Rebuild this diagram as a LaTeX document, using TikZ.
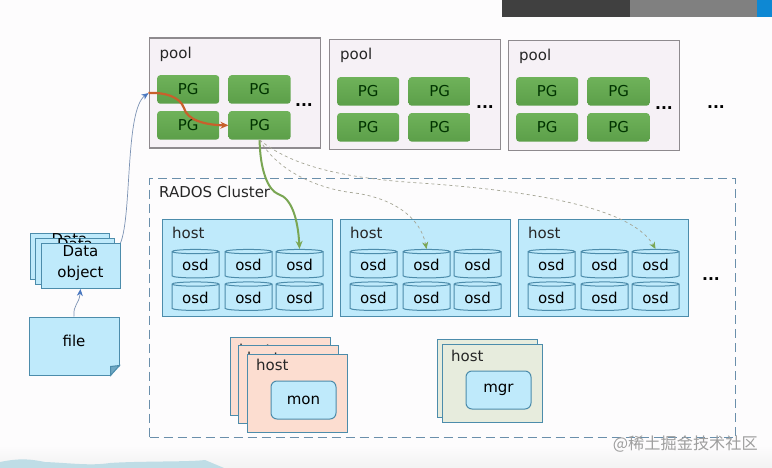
\documentclass[tikz,border=0pt]{standalone}
\usepackage{fontspec}
\setmainfont{DejaVu Sans}
\newfontfamily\cjkfont{Noto Sans CJK SC}
\usepackage{tikz}
\usetikzlibrary{arrows.meta,positioning,shapes.geometric}
\definecolor{pagefill}{HTML}{FDFCFD}
\definecolor{bluefill}{HTML}{BFEAFB}
\definecolor{blueline}{HTML}{4C8CAB}
\definecolor{poolfill}{HTML}{F6F1F6}
\definecolor{poolline}{HTML}{8E8A8E}
\definecolor{monfill}{HTML}{FCDDD0}
\definecolor{mgrfill}{HTML}{E7ECDD}
\definecolor{greenline}{HTML}{7AA653}
\definecolor{orangeline}{HTML}{C8602C}
\definecolor{arrowblue}{HTML}{4A78C0}
\definecolor{wireblue}{HTML}{7C93B4}
\definecolor{dashline}{HTML}{A5A595}
\definecolor{clusterline}{HTML}{6A8FAB}
\definecolor{pgtop}{HTML}{6FB25A}
\definecolor{pgbottom}{HTML}{5C9F49}
\definecolor{cloud}{HTML}{BFDDE6}
\tikzset{
	poolbox/.style={
		rectangle, draw=poolline, line width=1.2pt, fill=poolfill,
		minimum width=171pt, minimum height=110pt, anchor=north west,
	},
	pgbox/.style={
		rectangle, rounded corners=3pt, top color=pgtop, bottom color=pgbottom,
		minimum width=62pt, minimum height=28.5pt, inner sep=0pt, text=black!80!green,
	},
	hostbox/.style={
		rectangle, draw=blueline, line width=1pt, fill=bluefill,
		minimum width=169.5pt, minimum height=97pt, anchor=north west,
	},
	osdbox/.style={
		cylinder, shape border rotate=90, aspect=0.16, draw=blueline, line width=1pt,
		cylinder uses custom fill, cylinder body fill=bluefill, cylinder end fill=bluefill,
		minimum width=47pt, minimum height=28.5pt, inner sep=0pt,
	},
	pagebox/.style={
		rectangle, draw=blueline, line width=1pt, fill=bluefill, align=center,
		minimum width=79pt, minimum height=45pt, inner sep=0pt, anchor=north west,
	},
	stackbox/.style={
		rectangle, draw=blueline, line width=1pt,
		minimum width=100pt, minimum height=78pt, anchor=north west,
	},
	rolebox/.style={
		rectangle, rounded corners=6pt, draw=blueline, line width=1pt, fill=bluefill,
		minimum width=65pt, minimum height=38pt, inner sep=0pt,
	},
	barbox/.style={
		rectangle, minimum height=17pt, inner sep=0pt, outer sep=0pt,
	},
	lbl/.style={inner sep=0pt, text=black!85},
	dots/.style={inner sep=0pt, font=\fontsize{15.5}{18}\selectfont\bfseries},
	line/.style={draw, -{Stealth[length=8pt,width=7pt]}},
	wire/.style={draw, wireblue, line width=0.7pt, arrows={-{Stealth[length=7pt,width=6pt,arrowblue]}}},
	dashwire/.style={draw=dashline, line width=0.7pt, dashed, arrows={-{Stealth[length=7pt,width=6pt,greenline]}}},
}
\begin{document}
\begin{tikzpicture}[x=1pt,y=-1pt,font=\fontsize{15}{18}\selectfont]
	\useasboundingbox (0,0) rectangle (772,468);
	\fill[pagefill] (0,0) rectangle (772,468);
	\fill[top color=pagefill, bottom color=white!95!black] (0,445) rectangle (772,468);
	\fill[cloud] (0,468) -- (0,462) .. controls (20,458) and (30,459) .. (45,462) .. controls (70,463) and (90,466) .. (110,463) .. controls (140,461) and (190,462) .. (205,460) -- (224,468) -- cycle;

	\node[barbox, fill=black!75, minimum width=128pt, anchor=north west] (bardark) at (502,0) {};
	\node[barbox, fill=black!50, minimum width=127pt, right=0pt of bardark] (barmid) {};
	\node[barbox, fill=cyan!70!blue, minimum width=15pt, right=0pt of barmid] (barblue) {};

	\node[poolbox] (poolone) at (148.5,37.5) {};
	\node[poolbox] (pooltwo) at (329,39) {};
	\node[poolbox] (poolthree) at (508,40) {};
	\node[lbl, below right=9pt and 11pt of poolone.north west] (labone) {pool};
	\node[lbl, below right=9pt and 11pt of pooltwo.north west] (labtwo) {pool};
	\node[lbl, below right=9pt and 11pt of poolthree.north west] (labthree) {pool};

	\node[pgbox, anchor=north west] (pgaa) at (157,75) {PG};
	\node[pgbox, right=9pt of pgaa] (pgab) {PG};
	\node[pgbox, below=7pt of pgaa] (pgac) {PG};
	\node[pgbox, below=7pt of pgab] (pgad) {PG};
	\node[pgbox, anchor=north west] (pgba) at (337,77) {PG};
	\node[pgbox, right=9pt of pgba] (pgbb) {PG};
	\node[pgbox, below=7pt of pgba] (pgbc) {PG};
	\node[pgbox, below=7pt of pgbb] (pgbd) {PG};
	\node[pgbox, anchor=north west] (pgca) at (516,77) {PG};
	\node[pgbox, right=9pt of pgca] (pgcb) {PG};
	\node[pgbox, below=7pt of pgca] (pgcc) {PG};
	\node[pgbox, below=7pt of pgcb] (pgcd) {PG};

	\node[dots] (dotsa) at (304,105) {...};
	\node[dots] (dotsb) at (485,107) {...};
	\node[dots] (dotsc) at (664,108) {...};
	\node[dots] (dotsd) at (716,107) {...};

	\node[rectangle, draw=clusterline, dash pattern=on 9pt off 5pt, line width=1.2pt, minimum width=586pt, minimum height=259pt, anchor=north west] (cluster) at (149,178) {};
	\node[lbl, anchor=west] (clusterlab) at (159,192) {RADOS Cluster};

	\node[hostbox] (hosta) at (162,219) {};
	\node[hostbox] (hostb) at (340,219) {};
	\node[hostbox] (hostc) at (518,219) {};
	\node[lbl, anchor=west] (hostlaba) at (172,233) {host};
	\node[lbl, anchor=west] (hostlabb) at (350,233) {host};
	\node[lbl, anchor=west] (hostlabc) at (528,233) {host};

	\node[osdbox] (osdaa) at (195.5,265) {osd};
	\node[osdbox, right=5pt of osdaa] (osdab) {osd};
	\node[osdbox, right=3pt of osdab] (osdac) {osd};
	\node[osdbox, below=3pt of osdaa] (osdad) {osd};
	\node[osdbox, below=3pt of osdab] (osdae) {osd};
	\node[osdbox, below=3pt of osdac] (osdaf) {osd};
	\node[osdbox] (osdba) at (373.5,265) {osd};
	\node[osdbox, right=5pt of osdba] (osdbb) {osd};
	\node[osdbox, right=3pt of osdbb] (osdbc) {osd};
	\node[osdbox, below=3pt of osdba] (osdbd) {osd};
	\node[osdbox, below=3pt of osdbb] (osdbe) {osd};
	\node[osdbox, below=3pt of osdbc] (osdbf) {osd};
	\node[osdbox] (osdca) at (551.5,265) {osd};
	\node[osdbox, right=5pt of osdca] (osdcb) {osd};
	\node[osdbox, right=3pt of osdcb] (osdcc) {osd};
	\node[osdbox, below=3pt of osdca] (osdcd) {osd};
	\node[osdbox, below=3pt of osdcb] (osdce) {osd};
	\node[osdbox, below=3pt of osdcc] (osdcf) {osd};
	\node[dots] (dotse) at (711,279) {...};

	\node[stackbox, fill=monfill] (monback) at (229.5,336.5) {};
	\node[lbl, anchor=west] (monbacklab) at (239,350) {host};
	\node[stackbox, fill=monfill] (monmid) at (237.5,345) {};
	\node[lbl, anchor=west] (monmidlab) at (247,358) {host};
	\node[stackbox, fill=monfill] (monfront) at (246.5,353.5) {};
	\node[lbl, anchor=west] (monfrontlab) at (256,365) {host};
	\node[rolebox] (mon) at (303.5,400) {mon};

	\node[stackbox, fill=mgrfill] (mgrback) at (436.5,338.5) {};
	\node[stackbox, fill=mgrfill] (mgrfront) at (441.5,343.5) {};
	\node[lbl, anchor=west] (mgrlab) at (451,356) {host};
	\node[rolebox] (mgr) at (498.5,390) {mgr};

	\node[pagebox] (databack) at (29.5,233.5) {\raisebox{12pt}[0pt][0pt]{Data}};
	\node[pagebox] (datamid) at (35,238.5) {\raisebox{12pt}[0pt][0pt]{Data}};
	\node[pagebox] (data) at (40.5,243) {\raisebox{0.5pt}[0pt][0pt]{Data}\\[0pt]\raisebox{-2.5pt}[0pt][0pt]{object}};

	\node[rectangle, draw=blueline, line width=1pt, fill=bluefill, minimum width=90pt, minimum height=58pt, anchor=north west, inner sep=0pt] (file) at (28.5,316.5) {\raisebox{10pt}{file}};
	\fill[pagefill] ([shift={(-9,1)}]file.south east) -- ([shift={(1,1)}]file.south east) -- ([shift={(1,-10)}]file.south east) -- cycle;
	\draw[blueline, line width=1pt, fill=blueline!70!bluefill] ([shift={(-9,0)}]file.south east) -- ([shift={(-9,-9)}]file.south east) -- ([shift={(0,-10)}]file.south east) -- cycle;

	\path[wire] (file.north) .. controls (73,304) and (79,305) .. (data.south);
	\path[wire] (data.north east) .. controls (132,215) and (125,110) .. (poolone.west);
	\path[line, orangeline, line width=2.2pt] (poolone.west) .. controls (165,92) and (180,97) .. (184,108) .. controls (187,120) and (205,125) .. (pgad.west);
	\path[line, greenline, line width=2pt] (pgad.south) .. controls (260,170) and (268,190) .. (278,194) .. controls (292,198) and (298,220) .. (osdac.north);
	\path[dashwire] (pgad.south) .. controls (280,175) and (325,190) .. (355,193) .. controls (390,198) and (420,215) .. (osdbb.north);
	\path[dashwire] (pgad.south) .. controls (290,165) and (340,178) .. (420,183) .. controls (520,190) and (630,205) .. (osdcc.north);

	\node[inner sep=0pt, text=black!38, anchor=east, font=\fontsize{16.2}{18}\selectfont\cjkfont] (mark) at (758,444) {@稀土掘金技术社区};
\end{tikzpicture}
\end{document}
